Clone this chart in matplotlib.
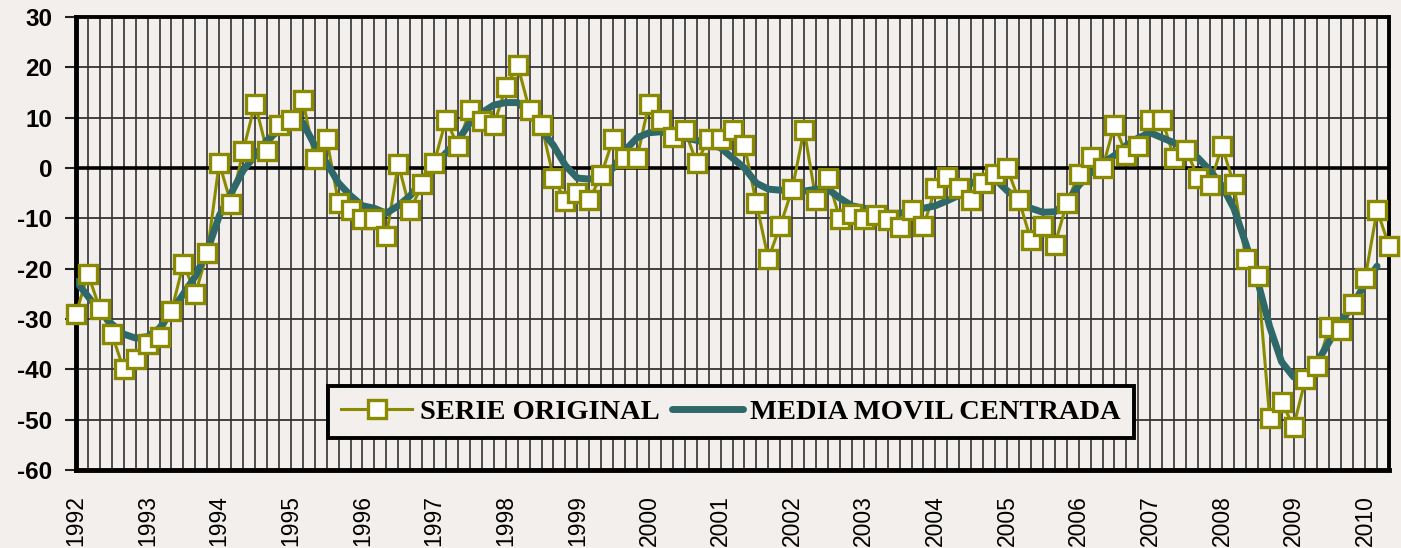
import matplotlib.pyplot as plt
from matplotlib.lines import Line2D
from matplotlib.transforms import ScaledTranslation

#Bimonthly values, Jan-Feb 1992 to May-Jun 2010
serie_original = [
    -29, -21, -28, -33, -40, -38,        #1992
    -35, -33.5, -28.4, -19, -25, -16.8,  #1993
    1, -7.2, 3.4, 12.8, 3.4, 8.5,        #1994
    9.6, 13.6, 1.8, 5.8, -7, -8.4,       #1995
    -10.2, -10.2, -13.5, 0.8, -8.4, -3.2,  #1996
    1, 9.6, 4.4, 11.6, 9.4, 8.5,         #1997
    16, 20.4, 11.5, 8.5, -1.9, -6.6,     #1998
    -5, -6.4, -1.4, 5.8, 2, 2,           #1999
    12.8, 9.6, 6.2, 7.6, 1, 5.8,         #2000
    5.8, 7.6, 4.5, -7, -18, -11.5,       #2001
    -4.2, 7.6, -6.4, -2, -10.2, -9.2,    #2002
    -10.2, -9.3, -10.3, -11.8, -8.4, -11.6,  #2003
    -4, -1.7, -4, -6.4, -3, -1.2,        #2004
    0, -6.4, -14.3, -11.6, -15.3, -7,    #2005
    -1.2, 2.2, 0, 8.6, 2.6, 4.4,         #2006
    9.6, 9.6, 2, 3.6, -1.9, -3.4,        #2007
    4.4, -3.2, -18, -21.4, -49.6, -46.4,  #2008
    -51.4, -42, -39.4, -31.6, -32.2, -27,  #2009
    -21.9, -8.4, -15.4                   #2010
]

media_movil = [
    -22.5, -25.5, -28.5, -31, -33, -33.8,
    -33.5, -31.8, -28.5, -25, -21.5, -16.5,
    -9.5, -5, -0.5, 2.5, 5.5, 7.5,
    9, 9, 4.5, 1, -3, -5.5,
    -7.5, -8, -9, -7.5, -5.5, -2.5,
    0.5, 3, 5.5, 9, 11, 12.5,
    13, 13, 11, 7.5, 4.5, 0.5,
    -2, -2.2, -2, 0, 3.5, 6,
    7, 7.2, 6.5, 6, 5.5, 4.8,
    4, 2, 0, -3, -4.2, -4.4,
    -4.5, -4.6, -4.2, -4.2, -6, -7.5,
    -8, -8.5, -9, -9, -8.5, -8,
    -7.5, -6.5, -5.4, -3, -2, -2.2,
    -4.5, -6.4, -8, -8.8, -8.7, -6.8,
    -3.5, -1, 1, 2.5, 4.5, 6,
    7, 6, 5, 4, 2, -0.5,
    -3.5, -8, -15, -22.5, -31.5, -38.5,
    -41.5, -41, -38.5, -34.5, -30.5, -27,
    -23, -19.5
]

years = [str(y) for y in range(1992, 2011)]

olive = '#8A8A00'
teal = '#2F6868'
bg = '#F2EFEC'

fig = plt.figure(figsize=(14.01, 5.48), dpi=100, facecolor=bg)
ax = fig.add_axes([76 / 1401, 78 / 548, 1313 / 1401, 453 / 548])
ax.set_facecolor(bg)

x = list(range(len(serie_original)))
xm = list(range(len(media_movil)))

ax.plot(x, serie_original, color=olive, lw=2.2, zorder=3, clip_on=False)
ax.plot(xm, media_movil, color=teal, lw=5, zorder=4, solid_capstyle='round')
ax.plot(x, serie_original, ls='none', marker='s', markersize=13,
        markerfacecolor='white', markeredgecolor=olive, markeredgewidth=2.4,
        zorder=5, clip_on=False)

ax.axhline(0, color='black', lw=2.6, zorder=2)

ax.set_xlim(0, len(serie_original) - 1)
ax.set_ylim(-60, 30)

#Grid: one vertical line per period, horizontal every 10
ax.set_xticks(range(0, len(years) * 6, 6))
ax.set_xticks(x, minor=True)
ax.set_xticklabels(years, rotation=90, fontsize=16.5, family='Liberation Sans', va='top')
for lab in ax.get_xticklabels():
    lab.set_transform(lab.get_transform() + ScaledTranslation(-3 / 100, 0, fig.dpi_scale_trans))
ax.tick_params(axis='x', which='both', length=0, pad=18)
ax.grid(axis='x', which='both', color='#222222', lw=1.1, zorder=1)

ax.set_yticks(range(-60, 31, 10))
ax.set_yticklabels([str(v) for v in range(-60, 31, 10)], fontsize=17.5,
                   fontweight='bold', family='Liberation Sans')
ax.tick_params(axis='y', length=8, width=1.5, pad=9, color='#222222')
ax.grid(axis='y', color='#333333', lw=1.3, zorder=1)
ax.set_axisbelow(True)

for side in ['left', 'bottom']:
    ax.spines[side].set_linewidth(3.5)
for side in ['top', 'right']:
    ax.spines[side].set_linewidth(2.8)

handles = [
    Line2D([], [], color=olive, lw=2.2, marker='s', markersize=13,
           markerfacecolor='white', markeredgecolor=olive, markeredgewidth=2.4),
    Line2D([], [], color=teal, lw=5, solid_capstyle='round'),
]
leg = ax.legend(handles, ['SERIE ORIGINAL', 'MEDIA MOVIL CENTRADA'], loc='center',
                bbox_to_anchor=(0.499, 0.128), ncol=2, frameon=True, fancybox=False,
                prop={'family': 'Liberation Serif', 'weight': 'bold', 'size': 20.5},
                handlelength=2.5, columnspacing=0.45, handletextpad=0.25,
                borderpad=0.45, borderaxespad=0)
leg.get_frame().set_edgecolor('black')
leg.get_frame().set_linewidth(2.8)
leg.get_frame().set_facecolor(bg)
leg.get_frame().set_alpha(1)
leg.set_zorder(6)

plt.savefig('out.png', dpi=100, facecolor=bg)
